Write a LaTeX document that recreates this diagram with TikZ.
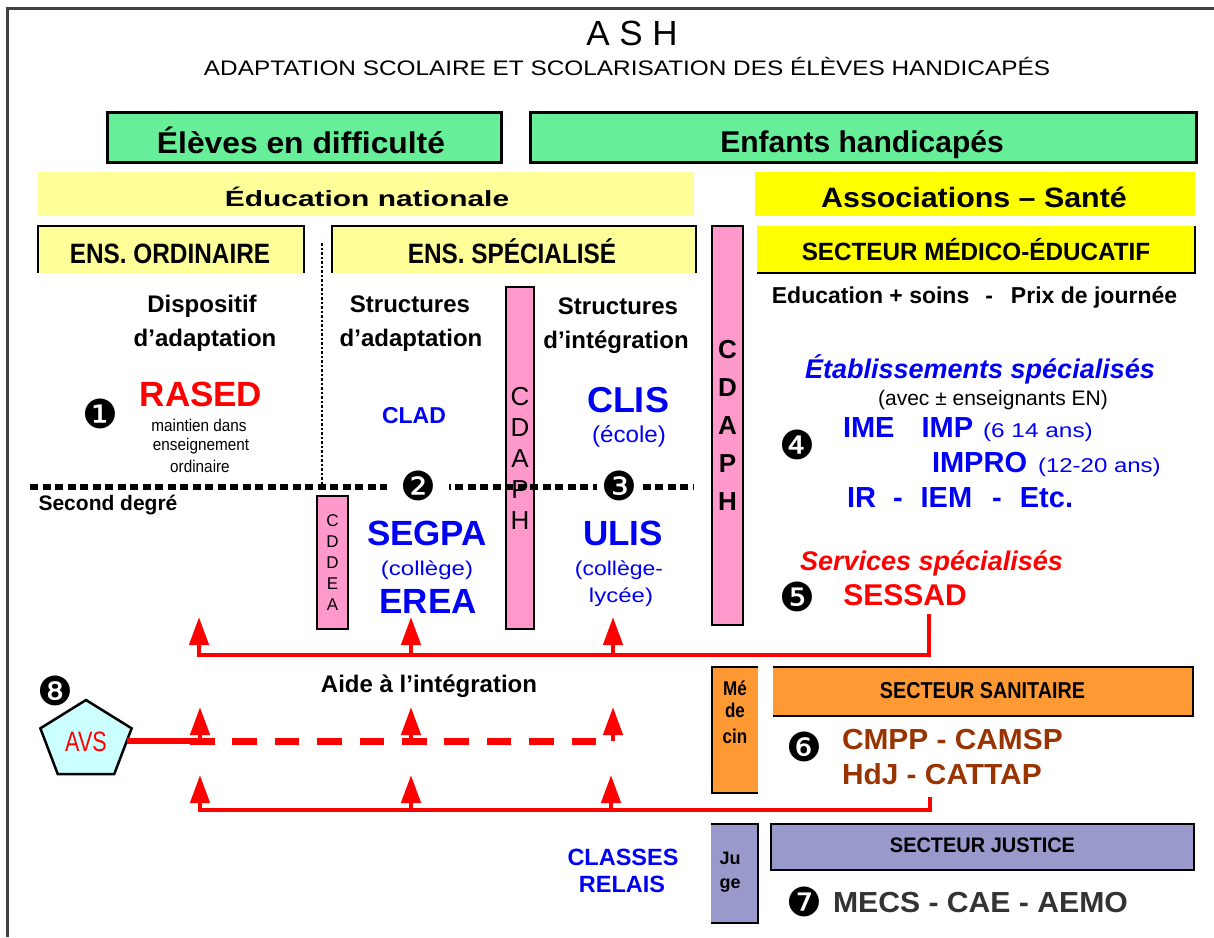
\documentclass[tikz,border=0pt]{standalone}
\usepackage{fontspec}
\setmainfont{Liberation Sans}
\newfontfamily\dvfont{DejaVu Sans}
\usetikzlibrary{shapes.geometric,arrows.meta}
\definecolor{grn}{RGB}{102,238,153}
\definecolor{lyel}{RGB}{255,255,153}
\definecolor{yel}{RGB}{255,255,0}
\definecolor{pnk}{RGB}{255,153,204}
\definecolor{org}{RGB}{255,153,51}
\definecolor{lav}{RGB}{153,153,204}
\definecolor{blu}{RGB}{0,0,245}
\definecolor{rd}{RGB}{255,0,0}
\definecolor{brn}{RGB}{153,51,0}
\definecolor{dgr}{RGB}{51,51,51}
\definecolor{cyn}{RGB}{204,255,255}
\newcommand\fsz[2]{\fontsize{#1}{#2}\selectfont}
\begin{document}
\begin{tikzpicture}[x=1pt,y=-1pt,
  every node/.style={inner sep=0pt,outer sep=0pt},
  gbox/.style={fill=grn,draw=black,line width=3pt},
  bar/.style={fill=pnk,draw=black,line width=2pt,align=center},
  num/.style={font=\dvfont\fsz{40}{40}},
  hw/.style={anchor=base,font=\bfseries\fsz{24}{24}},
  bt/.style={anchor=base,font=\bfseries\fsz{#1}{#1}},
  rt/.style={anchor=base,font=\fsz{#1}{#1}},
  edge/.style={line width=1.5pt},
  redline/.style={draw=rd,line width=4.5pt},
  redarrow/.style={draw=rd,line width=4.5pt,-{Triangle[width=19pt,length=28pt]}}]
\useasboundingbox (0,0) rectangle (1214,937);
\fill[white] (0,0) rectangle (1214,937);
% frame
\draw[black!75,line width=3pt] (7,937) -- (7,8) -- (1214,8);

% titles
\node[rt=35] (title) at (632,45) {A S H};
\node[rt=21] (subtitle) at (627,75) {\scalebox{1.16}[1]{ADAPTATION SCOLAIRE ET SCOLARISATION DES ÉLÈVES HANDICAPÉS}};

% green boxes
\node[gbox,minimum width=394pt,minimum height=50pt] (elevbox) at (304,137) {};
\node[bt=30] (elevtxt) at (301,153) {\scalebox{1.06}[1]{Élèves en difficulté}};
\node[gbox,minimum width=666pt,minimum height=50pt] (enfbox) at (863,137) {};
\node[bt=30] (enftxt) at (862,152) {Enfants handicapés};

% yellow bands
\node[fill=lyel,minimum width=656pt,minimum height=44pt] (edbox) at (366,194) {};
\node[bt=22] (edtxt) at (367,206) {\scalebox{1.36}[1]{Éducation nationale}};
\node[fill=yel,minimum width=440pt,minimum height=44pt] (asbox) at (975,194) {};
\node[bt=28] (astxt) at (974,207) {\scalebox{1.085}[1]{Associations – Santé}};

\node[fill=lyel,minimum width=266pt,minimum height=47pt] (ordbox) at (171,249.5) {};
\draw[edge] (ordbox.south west) -- (ordbox.north west) -- (ordbox.north east) -- (ordbox.south east);
\node[bt=28] (ordtxt) at (170,263) {\scalebox{0.87}[1]{ENS. ORDINAIRE}};
\node[fill=lyel,minimum width=364pt,minimum height=47pt] (spebox) at (514,249.5) {};
\draw[edge] (spebox.south west) -- (spebox.north west) -- (spebox.north east) -- (spebox.south east);
\node[bt=28] (spetxt) at (512,263) {\scalebox{0.87}[1]{ENS. SPÉCIALISÉ}};
\node[fill=yel,minimum width=438pt,minimum height=47pt] (medbox) at (976,249.5) {};
\draw[edge] (medbox.south west) -- (medbox.south east) -- (medbox.north east);
\node[bt=25] (medtxt) at (976,260) {\scalebox{0.97}[1]{SECTEUR MÉDICO-ÉDUCATIF}};

% pink bars
\node[bar,minimum width=28pt,minimum height=342pt,font=\fsz{26}{31}] (cdaph1) at (520,458) {C\\D\\A\\P\\H};
\node[bar,minimum width=31pt,minimum height=399pt,font=\bfseries\fsz{26}{38}] (cdaph2) at (727.5,425.5) {C\\D\\A\\P\\H};
\node[bar,minimum width=31pt,minimum height=133pt,font=\fsz{17}{21}] (cddea) at (332.5,562.5) {C\\D\\D\\E\\A};

% dotted lines
\coordinate (vd1) at (322,243);
\coordinate (vd2) at (322,490);
\draw[black,line width=2.5pt,dash pattern=on 2.5pt off 2pt] (vd1) -- (vd2);
\coordinate (hd1) at (30,487);
\coordinate (hd2) at (694,487);
\draw[black,line width=6pt,dash pattern=on 8pt off 4.5pt] (hd1) -- (hd2);
\node[num,fill=white,inner xsep=13pt,inner ysep=1pt] (n2) at (418,486) {❷};
\node[num,fill=white,inner xsep=4pt,inner ysep=1pt] (n3) at (619,486) {❸};

% left column
\node[hw] (disp1) at (202,312) {Dispositif};
\node[hw] (disp2) at (205,346) {d’adaptation};
\node[hw] (str1) at (410,312) {Structures};
\node[hw] (str2) at (411,346) {d’adaptation};
\node[hw] (str3) at (618,314) {Structures};
\node[hw] (str4) at (616,348) {d’intégration};

\node[num] (n1) at (100,414) {❶};
\node[bt=35,text=rd] (rased) at (201,406) {RASED};
\node[rt=17] (mt1) at (199,431) {\scalebox{0.9}[1]{maintien dans}};
\node[rt=17] (mt2) at (201,450) {\scalebox{0.9}[1]{enseignement}};
\node[rt=17] (mt3) at (200,472) {\scalebox{0.9}[1]{ordinaire}};

\node[bt=23,text=blu] (clad) at (414,423) {CLAD};
\node[bt=36,text=blu] (clis) at (628,412) {CLIS};
\node[rt=23,text=blu] (ecole) at (629,442) {\scalebox{1.05}[1]{(école)}};

\node[bt=21] (second) at (108,510) {Second degré};
\node[bt=35,text=blu] (segpa) at (427,545) {SEGPA};
\node[rt=20,text=blu] (coll1) at (427,575) {\scalebox{1.2}[1]{(collège)}};
\node[bt=35,text=blu] (erea) at (428,613) {EREA};
\node[bt=35,text=blu] (ulis) at (623,545) {ULIS};
\node[rt=20,text=blu] (coll2) at (619,575) {\scalebox{1.15}[1]{(collège-}};
\node[rt=20,text=blu] (lycee) at (621,602) {\scalebox{1.2}[1]{lycée)}};

% right column
\node[bt=23] (edsoins) at (974.5,303) {Education + soins\hspace{16pt}-\hspace{18pt}Prix de journée};
\node[bt=27,text=blu,font=\bfseries\itshape\fsz{27}{27}] (etab) at (980,378) {Établissements spécialisés};
\node[rt=21] (avec) at (993,405) {(avec ± enseignants EN)};
\node[num] (n4) at (797,445) {❹};
\node[anchor=base west,text=blu,font=\bfseries\fsz{29}{29}] (ime) at (843,437) {IME\hspace{27pt}IMP};
\node[anchor=base west,text=blu,font=\fsz{20}{20}] (age1) at (983,437) {\scalebox{1.22}[1]{(6 14 ans)}};
\node[anchor=base west,text=blu,font=\bfseries\fsz{29}{29}] (impro) at (932,472) {IMPRO};
\node[anchor=base west,text=blu,font=\fsz{20}{20}] (age2) at (1038,472) {\scalebox{1.2}[1]{(12-20 ans)}};
\node[anchor=base west,text=blu,font=\bfseries\fsz{29}{29}] (ir) at (847,507) {IR\hspace{17pt}-\hspace{18pt}IEM\hspace{20pt}-\hspace{18pt}Etc.};
\node[anchor=base,text=rd,font=\bfseries\itshape\fsz{27}{27}] (serv) at (931.5,570) {Services spécialisés};
\node[num] (n5) at (797,597) {❺};
\node[bt=30,text=rd] (sessad) at (905,605) {SESSAD};

% red top bracket and arrows
\coordinate (b1a) at (929,614);
\coordinate (b1b) at (929,655);
\coordinate (b1c) at (197,655);
\draw[redline] (b1a) -- (b1b) -- (b1c);
\foreach \i/\x in {1/199,2/411,3/613}{
  \coordinate (tb\i) at (\x,657);
  \coordinate (tt\i) at (\x,617);
  \draw[redarrow] (tb\i) -- (tt\i);
}

\node[hw] (aide) at (429,692) {Aide à l’intégration};

% AVS
\node[regular polygon,regular polygon sides=5,minimum size=82pt,xscale=1.17,fill=cyn,draw=black,line width=2.5pt] (avs) at (86,741) {};
\node[text=rd,font=\fsz{28}{28}] (avstxt) at (86,742) {\scalebox{0.77}[1]{AVS}};
\node[num] (n8) at (55,691) {❽};
\coordinate (m1) at (190,741);
\coordinate (m2) at (596,741);
\draw[rd,line width=6.5pt] (avs.0) -- (m1);
\draw[rd,line width=7pt,dash pattern=on 24.5pt off 17.9pt] (m1) -- (m2);
\foreach \i/\x in {1/200,2/411,3/613}{
  \coordinate (mb\i) at (\x,741);
  \coordinate (mt\i) at (\x,707);
  \draw[redarrow] (mb\i) -- (mt\i);
}

% bottom bracket and arrows
\coordinate (b2a) at (930,797);
\coordinate (b2b) at (930,810);
\coordinate (b2c) at (198,810);
\draw[redline] (b2a) -- (b2b) -- (b2c);
\foreach \i/\x in {1/200,2/411,3/611}{
  \coordinate (bb\i) at (\x,812);
  \coordinate (bt\i) at (\x,775);
  \draw[redarrow] (bb\i) -- (bt\i);
}

% secteur sanitaire
\node[fill=org,minimum width=46pt,minimum height=126pt] (medecin) at (735,730) {};
\draw[line width=2pt] (medecin.north east) -- (medecin.north west) -- (medecin.south west) -- (medecin.south east);
\node[bt=20] (med1) at (735,695) {\scalebox{0.85}[1]{Mé}};
\node[bt=20] (med2) at (735,717) {\scalebox{0.85}[1]{de}};
\node[bt=20] (med3) at (735,743) {\scalebox{0.85}[1]{cin}};
\node[fill=org,minimum width=420pt,minimum height=49pt] (sanbox) at (983,691.5) {};
\draw[line width=2pt] (sanbox.north west) -- (sanbox.north east) -- (sanbox.south east) -- (sanbox.south west);
\node[bt=23] (santxt) at (982.5,698) {\scalebox{0.86}[1]{SECTEUR SANITAIRE}};
\node[num] (n6) at (804,747) {❻};
\node[anchor=base west,text=brn,font=\bfseries\fsz{29}{29}] (cmpp) at (842,749) {\scalebox{1.03}[1]{CMPP - CAMSP}};
\node[anchor=base west,text=brn,font=\bfseries\fsz{29}{29}] (hdj) at (842,784) {\scalebox{1.03}[1]{HdJ - CATTAP}};

% classes relais
\node[bt=23.5,text=blu] (classes) at (623,865) {CLASSES};
\node[bt=23.5,text=blu] (relais) at (622,892) {RELAIS};

% secteur justice
\node[fill=lav,minimum width=47pt,minimum height=99pt] (juge) at (734.5,873.5) {};
\draw[line width=2pt] (juge.north west) -- (juge.north east) -- (juge.south east) -- (juge.south west);
\node[bt=18] (ju1) at (730,864) {Ju};
\node[bt=18] (ju2) at (730,888) {ge};
\node[fill=lav,draw=black,line width=2pt,minimum width=423pt,minimum height=46pt] (jusbox) at (982.5,847) {};
\node[bt=21] (justxt) at (982.5,852) {\scalebox{0.95}[1]{SECTEUR JUSTICE}};
\node[num] (n7) at (804,902) {❼};
\node[anchor=base west,text=dgr,font=\bfseries\fsz{29}{29}] (mecs) at (833,912) {\scalebox{1.04}[1]{MECS - CAE - AEMO}};
\end{tikzpicture}
\end{document}
